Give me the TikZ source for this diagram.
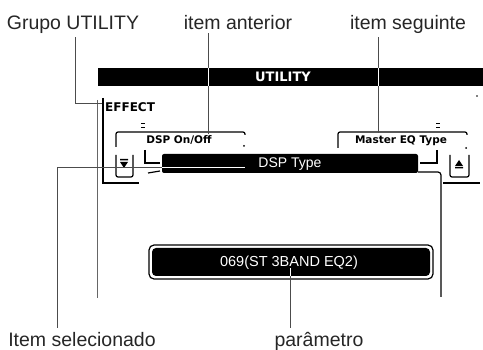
\documentclass[tikz,border=0pt]{standalone}
\usepackage{fontspec}
\setmainfont{Liberation Sans}
\newfontfamily\lcdfont{DejaVu Sans}
\usetikzlibrary{calc}

\tikzset{
  callout/.style={text=black!85, inner sep=0pt, anchor=base, font=\fontsize{19.5}{22}\selectfont},
  leadline/.style={draw=black!70, line width=0.7pt},
  lcdsmall/.style={inner sep=0pt, font=\lcdfont\bfseries\fontsize{10.5}{12}\selectfont},
  lcdbig/.style={inner sep=0pt, text=white, font=\fontsize{14}{16}\selectfont},
  lcdframe/.style={line width=1.2pt},
  heavy/.style={line width=2pt},
}

\newcommand\drawpointers[1]{%
  \draw[#1] ($(grupo.south)+(2,3)$) |- (effect);
  \draw[#1] ($(anterior.south -| prevtop)+(0,3)$) -- (prevtop);
  \draw[#1] ($(seguinte.south -| nexttop)+(0,3)$) -- (nexttop);
  \draw[#1] ($(selec.north -| selcorner)+(0,-5)$) -- (selcorner) -- (selend);
  \draw[#1] ($(param.north -| valend)+(0,-5)$) -- (valend);
}

\begin{document}
\begin{tikzpicture}[x=1pt,y=-1pt]
\useasboundingbox (0,0) rectangle (483,350);

\node[callout] (grupo) at (73,30) {Grupo UTILITY};
\node[callout] (anterior) at (238,30) {item anterior};
\node[callout] (seguinte) at (408,30) {item seguinte};
\node[callout] (selec) at (82,347) {Item selecionado};
\node[callout] (param) at (319,347) {parâmetro};

\coordinate (effect) at (102,103);
\coordinate (prevtop) at (208,134);
\coordinate (nexttop) at (378,133);
\coordinate (selcorner) at (57,167);
\coordinate (selend) at (245,167);
\coordinate (valend) at (290,268);

\fill (98,68) rectangle (483,86);
\node[lcdsmall, text=white, font=\lcdfont\bfseries\fontsize{13}{14}\selectfont] (title) at (283,77) {UTILITY};
\fill (477,96) circle (0.8);

\draw[black!60, line width=0.6pt] (97,100) -- (97,298);
\draw[lcdframe, line width=1.6pt] (103,98) -- (103,183) -- (139,183);
\draw[lcdframe, line width=1.6pt] (443,183) -- (480,183);
\node[lcdsmall, anchor=west, font=\lcdfont\bfseries\fontsize{12}{13}\selectfont] (group) at (105,107) {EFFECT};

\draw[lcdframe, line width=0.8pt] (141,123) -- (145,123) (141,127) -- (145,127);
\draw[lcdframe, line width=0.8pt] (436,123) -- (440,123) (436,127) -- (440,127);

\draw[lcdframe, rounded corners=2pt] (116,147) -- (116,132) -- (245,132) -- (245,135);
\fill (244,146) circle (1);
\node[lcdsmall] (prev) at (179,140) {DSP On/Off};
\draw[lcdframe, rounded corners=2pt] (338,148) -- (338,132) -- (467,132) -- (467,135);
\fill (466,148) circle (1);
\node[lcdsmall] (next) at (401,141) {Master EQ Type};

\draw[lcdframe, rounded corners=2pt] (116,155) -- (116,177) -- (133,177) -- (133,155);
\fill (120,159) rectangle (128,160.5) (120,162) -- (128,162) -- (124,168) -- cycle;
\draw[lcdframe, rounded corners=2pt] (450,155) -- (450,177) -- (469,177) -- (469,155);
\fill (455,167) rectangle (463,168.5) (455,166) -- (463,166) -- (459,160) -- cycle;

\fill[rounded corners=2pt] (162,154) rectangle (418,173);
\node[lcdbig] (current) at (290,164) {DSP Type};
\draw[heavy] (145,150) -- (145,163) -- (160,163);
\draw[heavy] (420,163) -- (437,163) -- (437,150);
\draw[lcdframe] (148,173) -- (160,171);
\draw[lcdframe, rounded corners=3pt] (418,172) -- (441,172) -- (441,297);

\draw[lcdframe, rounded corners=5pt] (149,245) rectangle (433,279);
\fill[rounded corners=4pt] (152,248) rectangle (430,276);
\node[lcdbig, font=\fontsize{14.5}{16}\selectfont] (value) at (289,263) {069(ST 3BAND EQ2)};

\drawpointers{leadline}
\begin{scope}
\clip (98,68) rectangle (483,86) (162,154) rectangle (418,173) (152,248) rectangle (430,276);
\drawpointers{leadline, draw=white}
\end{scope}
\end{tikzpicture}
\end{document}
